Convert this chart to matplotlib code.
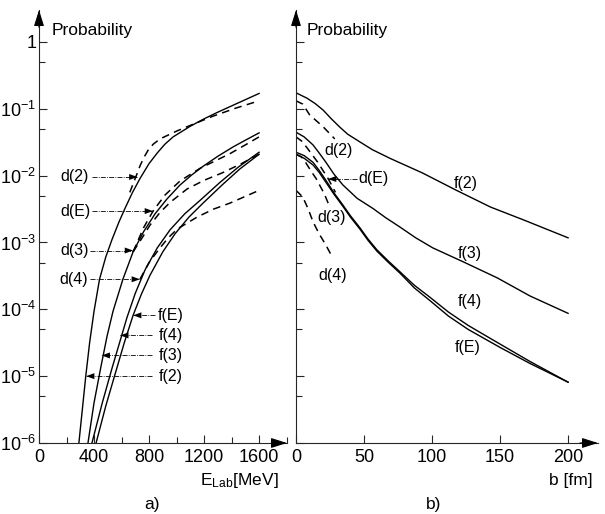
import numpy as np
import matplotlib
matplotlib.use('Agg')
import matplotlib.pyplot as plt
from matplotlib import font_manager as fm
from matplotlib.ticker import FixedLocator, MultipleLocator, NullFormatter

# ---------------- data: panel a)  log10(probability) vs E_Lab [MeV] ----------------
fa2_E = [290, 315, 340, 368, 400, 440, 485, 530, 580, 625, 680, 735, 800, 860, 915, 975, 1100, 1200, 1300, 1450, 1600]
fa2_lg = [-6, -5.5, -5.0, -4.5, -4.03, -3.55, -3.22, -2.96, -2.70, -2.49, -2.25, -2.04, -1.82, -1.66, -1.53, -1.42,
          -1.26, -1.15, -1.05, -0.91, -0.77]
fa3_E = [356, 400, 451, 495, 538, 610, 684, 760, 844, 930, 1025, 1110, 1193, 1300, 1411, 1500, 1600]
fa3_lg = [-6, -5.4, -4.85, -4.4, -4.03, -3.55, -3.14, -2.84, -2.57, -2.35, -2.14, -1.99, -1.86, -1.71, -1.57, -1.47, -1.36]
fa4_E = [385, 460, 531, 600, 640, 700, 771, 860, 953, 1060, 1171, 1316, 1450, 1600]
fa4_lg = [-6, -5.4, -4.88, -4.4, -4.12, -3.76, -3.41, -3.08, -2.81, -2.57, -2.37, -2.10, -1.87, -1.65]
faE_E = [415, 485, 553, 620, 684, 745, 807, 900, 989, 1090, 1193, 1331, 1460, 1600]
faE_lg = [-6, -5.45, -4.97, -4.5, -4.09, -3.77, -3.49, -3.14, -2.87, -2.62, -2.41, -2.14, -1.90, -1.68]

da2_E = [660, 698, 735, 765, 793, 830, 880, 1004, 1098, 1265, 1430, 1600]
da2_lg = [-2.25, -2.05, -1.85, -1.72, -1.62, -1.53, -1.45, -1.33, -1.25, -1.11, -0.99, -0.88]
daE_E = [684, 760, 829, 916, 1025, 1171, 1280, 1389, 1500, 1600]
daE_lg = [-3.14, -2.78, -2.53, -2.29, -2.08, -1.89, -1.78, -1.67, -1.54, -1.42]
da3_E = [684, 750, 807, 880, 953, 1076, 1200, 1330, 1462, 1600]
da3_lg = [-3.14, -2.93, -2.74, -2.55, -2.40, -2.20, -2.07, -1.96, -1.83, -1.68]
da4_E = [734, 800, 880, 940, 1004, 1149, 1270, 1389, 1500, 1600]
da4_lg = [-3.55, -3.30, -3.08, -2.93, -2.80, -2.62, -2.50, -2.41, -2.31, -2.22]

# ---------------- data: panel b)  log10(probability) vs b [fm] ----------------
fb2_b = [0, 8, 14, 20, 26, 32, 38, 45, 56, 69, 81, 93, 118, 143, 167, 200]
fb2_lg = [-0.76, -0.84, -0.92, -1.02, -1.15, -1.27, -1.38, -1.47, -1.61, -1.74, -1.85, -1.96, -2.22, -2.47, -2.66, -2.93]
fb3_b = [0, 6, 12.5, 17, 22, 28, 34.5, 45, 56.5, 66, 76.5, 88, 100.5, 123, 148, 172, 200]
fb3_lg = [-1.35, -1.42, -1.54, -1.66, -1.80, -1.98, -2.14, -2.34, -2.49, -2.63, -2.77, -2.93, -3.08, -3.29, -3.53,
          -3.80, -4.06]
fb4_b = [0, 6, 12.5, 17, 22, 28, 34.5, 40, 47, 53, 59.5, 68, 76.5, 87, 98.5, 112, 126.5, 150, 172, 200]
fb4_lg = [-1.65, -1.70, -1.80, -1.92, -2.07, -2.26, -2.44, -2.60, -2.78, -2.95, -3.11, -3.28, -3.44, -3.64, -3.82,
          -4.04, -4.24, -4.52, -4.78, -5.09]
fbE_b = [0, 6, 12.5, 17, 22, 28, 34.5, 40, 47, 53, 59.5, 68, 76.5, 87, 98.5, 112, 126.5, 150, 172, 200]
fbE_lg = [-1.68, -1.74, -1.84, -1.95, -2.10, -2.28, -2.46, -2.62, -2.80, -2.97, -3.13, -3.30, -3.46, -3.68, -3.87,
          -4.10, -4.30, -4.57, -4.81, -5.09]

db2_b = [0, 5, 10, 15, 20, 28.5]
db2_lg = [-0.88, -0.93, -1.09, -1.18, -1.27, -1.45]
dbE_b = [0, 4, 8, 12, 16, 23.5, 29]
dbE_lg = [-1.42, -1.48, -1.58, -1.69, -1.80, -2.04, -2.25]
db3_b = [0, 4, 7, 11, 15, 21, 24]
db3_lg = [-1.68, -1.72, -1.80, -1.93, -2.05, -2.28, -2.43]
db4_b = [0, 5, 9, 12.5, 17, 22, 27]
db4_lg = [-2.22, -2.32, -2.50, -2.69, -2.87, -3.04, -3.23]

xticks_a = [0, 400, 800, 1200, 1600]
xticks_b = [0, 50, 100, 150, 200]
yticks = [1e-6, 1e-5, 1e-4, 1e-3, 1e-2, 1e-1, 1]
ytick_labels = [r'$\mathregular{10^{-6}}$', r'$\mathregular{10^{-5}}$', r'$\mathregular{10^{-4}}$',
                r'$\mathregular{10^{-3}}$', r'$\mathregular{10^{-2}}$', r'$\mathregular{10^{-1}}$', '1']
yminor = [5e-6, 5e-5, 5e-4, 5e-3, 5e-2, 5e-1]

# ---------------- fonts ----------------
names = {f.name for f in fm.fontManager.ttflist}
fam = 'Liberation Sans Narrow' if 'Liberation Sans Narrow' in names else 'Liberation Sans'
plt.rcParams['font.family'] = [fam, 'DejaVu Sans']
plt.rcParams['mathtext.fontset'] = 'custom'
plt.rcParams['mathtext.rm'] = fam

W, H = 605, 514
fig = plt.figure(figsize=(W / 100, H / 100), dpi=100)
axL = fig.add_axes([39 / W, 71 / H, 248 / W, 433 / H])
axR = fig.add_axes([296 / W, 71 / H, 302 / W, 433 / H])

SOLID = dict(color='k', lw=1.0, solid_joinstyle='round')
DASH = dict(color='k', lw=1.1, ls=(0, (5, 3.5)))

def P(lg):
    return np.power(10.0, lg)

for ax in (axL, axR):
    ax.set_yscale('log')
    ax.set_ylim(1e-6, 3.01)
    ax.spines[['top', 'right']].set_visible(False)
    for s in ('left', 'bottom'):
        ax.spines[s].set_linewidth(0.8)
        ax.spines[s].set_color('0.15')
    ax.yaxis.set_major_locator(FixedLocator(yticks))
    ax.yaxis.set_minor_locator(FixedLocator(yminor))
    ax.yaxis.set_minor_formatter(NullFormatter())
    ax.tick_params(axis='both', which='major', direction='in', length=6, width=0.8, labelsize=13, color='0.15')
    ax.tick_params(axis='both', which='minor', direction='in', length=4, width=0.8, color='0.15')
    ax.tick_params(axis='y', pad=2)
    ax.tick_params(axis='x', pad=4)
    arrow = dict(arrowstyle='-|>,head_length=0.7,head_width=0.22', color='k', lw=0.8,
                 mutation_scale=14, shrinkA=0, shrinkB=0)
    ax.annotate('', xy=(0, 1.0), xytext=(0, 0.96), xycoords='axes fraction', arrowprops=arrow)
    ax.annotate('', xy=(1.0, 0), xytext=(0.94, 0), xycoords='axes fraction', arrowprops=arrow)

# ---- panel a
axL.set_xlim(0, 1803)
axL.set_xticks(xticks_a)
axL.xaxis.set_minor_locator(MultipleLocator(200))
axL.set_yticks(yticks)
axL.set_yticklabels(ytick_labels)

for E, lg in ((fa2_E, fa2_lg), (fa3_E, fa3_lg), (fa4_E, fa4_lg), (faE_E, faE_lg)):
    axL.plot(E, P(lg), **SOLID)
for E, lg in ((da2_E, da2_lg), (daE_E, daE_lg), (da3_E, da3_lg), (da4_E, da4_lg)):
    axL.plot(E, P(lg), **DASH)

LBL = dict(fontsize=11.5, va='center')

def label_arrow(ax, text, xt, ha, x0, x1, y):
    ax.text(xt, y, text, ha=ha, **LBL)
    ax.plot([x0, x1], [y, y], color='k', lw=0.6, ls=(0, (6, 1.5, 1, 1.5)))
    ax.annotate('', xy=(x1, y), xytext=(x0, y),
                arrowprops=dict(arrowstyle='-|>,head_length=0.5,head_width=0.18', color='k',
                                lw=0.0, mutation_scale=12, shrinkA=0, shrinkB=0))

label_arrow(axL, 'd(2)', 262, 'center', 385, 716, 10 ** -2.02)
label_arrow(axL, 'd(E)', 262, 'center', 385, 829, 10 ** -2.53)
label_arrow(axL, 'd(3)', 262, 'center', 371, 684, 10 ** -3.12)
label_arrow(axL, 'd(4)', 255, 'center', 371, 734, 10 ** -3.55)
label_arrow(axL, 'f(E)', 960, 'center', 844, 684, 10 ** -4.09)
label_arrow(axL, 'f(4)', 960, 'center', 822, 590, 10 ** -4.39)
label_arrow(axL, 'f(3)', 960, 'center', 822, 455, 10 ** -4.69)
label_arrow(axL, 'f(2)', 960, 'center', 822, 342, 10 ** -5.0)

# ---- panel b
axR.set_xlim(0, 222)
axR.set_xticks(xticks_b)
axR.tick_params(axis='y', labelleft=False)

for b, lg in ((fb2_b, fb2_lg), (fb3_b, fb3_lg), (fb4_b, fb4_lg), (fbE_b, fbE_lg)):
    axR.plot(b, P(lg), **SOLID)
for b, lg in ((db2_b, db2_lg), (dbE_b, dbE_lg), (db3_b, db3_lg), (db4_b, db4_lg)):
    axR.plot(b, P(lg), **DASH)

axR.text(31.6, 10 ** -1.63, 'd(2)', ha='center', **LBL)
label_arrow(axR, 'd(E)', 46, 'left', 45, 23.5, 10 ** -2.05)
axR.text(26.5, 10 ** -2.63, 'd(3)', ha='center', **LBL)
axR.text(27.2, 10 ** -3.49, 'd(4)', ha='center', **LBL)
axR.text(125, 10 ** -2.11, 'f(2)', ha='center', **LBL)
axR.text(128, 10 ** -3.17, 'f(3)', ha='center', **LBL)
axR.text(128, 10 ** -3.89, 'f(4)', ha='center', **LBL)
axR.text(126.5, 10 ** -4.57, 'f(E)', ha='center', **LBL)

# ---- titles / axis names
fig.text(52 / W, 1 - 30 / H, 'Probability', fontsize=12.5, ha='left', va='center')
fig.text(307 / W, 1 - 30 / H, 'Probability', fontsize=12.5, ha='left', va='center')
fig.text(279 / W, 1 - 481 / H, r'$\mathregular{E_{Lab}}$[MeV]', fontsize=12.5, ha='right', va='center')
fig.text(593 / W, 1 - 481 / H, 'b [fm]', fontsize=12.5, ha='right', va='center')
fig.text(152 / W, 1 - 505 / H, 'a)', fontsize=12.5, ha='center', va='center')
fig.text(434 / W, 1 - 505 / H, 'b)', fontsize=12.5, ha='center', va='center')

fig.savefig('out.png', dpi=100)
